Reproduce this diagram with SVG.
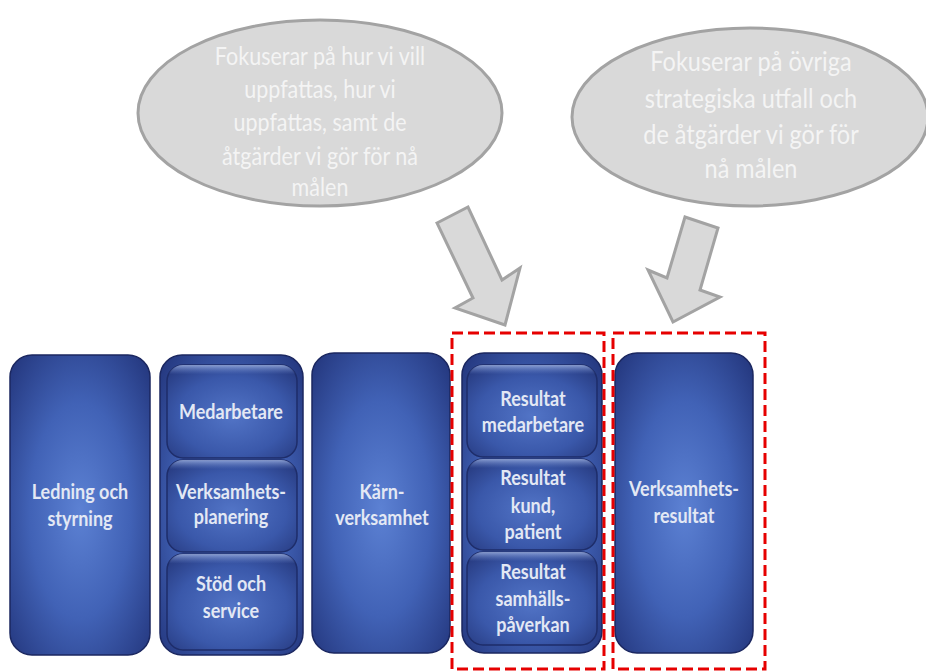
<svg xmlns="http://www.w3.org/2000/svg" width="926" height="671" viewBox="0 0 926 671">
<defs>
<radialGradient id="gCol" cx="0.5" cy="0.52" r="0.72">
<stop offset="0" stop-color="#5c81d3"/>
<stop offset="0.5" stop-color="#4162b6"/>
<stop offset="1" stop-color="#22347a"/>
</radialGradient>
<radialGradient id="gBox" cx="0.5" cy="0.55" r="0.7">
<stop offset="0" stop-color="#5274c6"/>
<stop offset="0.6" stop-color="#3a58aa"/>
<stop offset="1" stop-color="#26397e"/>
</radialGradient>
<linearGradient id="gHi" x1="0" y1="0" x2="0" y2="1">
<stop offset="0" stop-color="#a9bdea" stop-opacity="0.75"/>
<stop offset="0.1" stop-color="#6f8cd2" stop-opacity="0"/>
</linearGradient>
</defs>
<style>
.ell{fill:#d9d9d9;stroke:#a3a3a3;stroke-width:3}
.arr{fill:#d9d9d9;stroke:#a3a3a3;stroke-width:3;stroke-linejoin:miter}
.etx{font-family:Lato,"Open Sans",sans-serif;fill:#f4f4f4;text-anchor:middle}
.col{fill:url(#gCol);stroke:#1b2760;stroke-width:1.5}
.box{fill:url(#gBox);stroke:#1e2d6a;stroke-width:1.5}
.hi{fill:url(#gHi);stroke:none}
.btx{font-family:Lato,"Open Sans",sans-serif;font-weight:bold;font-size:18px;fill:#e3e8f4;text-anchor:middle}
.sel{fill:none;stroke:#e60000;stroke-width:3;stroke-dasharray:11 5}
</style>
<rect width="926" height="671" fill="#ffffff"/>

<g id="bubble1">
<ellipse class="ell" cx="320" cy="113" rx="182" ry="93"/>
<text class="etx" font-size="21.5" transform="scale(1,1.12)"><tspan x="320" y="58">Fokuserar på hur vi vill</tspan><tspan x="320" y="87.5">uppfattas, hur vi</tspan><tspan x="320" y="117">uppfattas, samt de</tspan><tspan x="320" y="147.3">åtgärder vi gör för nå</tspan><tspan x="320" y="175">målen</tspan></text>
</g>
<g id="bubble2">
<ellipse class="ell" cx="750" cy="117" rx="178" ry="89"/>
<text class="etx" font-size="23.5" transform="scale(1,1.12)"><tspan x="751" y="63.4">Fokuserar på övriga</tspan><tspan x="751" y="96.4">strategiska utfall och</tspan><tspan x="751" y="128.6">de åtgärder vi gör för</tspan><tspan x="751" y="158.9">nå målen</tspan></text>
</g>

<g id="connectors">
<polygon class="arr" points="437,223 468,207 502,280 520,268 505,325 455,308 473,298"/>
<polygon class="arr" points="685,217 718,228 700,290 720,297 673,322 648,270 667,278"/>
</g>

<g id="ledning">
<rect class="col" x="10" y="355" width="140" height="300" rx="22"/>
<text class="btx" transform="scale(1,1.15)"><tspan x="80" y="433.9">Ledning och</tspan><tspan x="80" y="457.4">styrning</tspan></text>
</g>

<g id="stod">
<rect class="col" x="160" y="355" width="143" height="300" rx="22"/>
<g id="medarbetare">
<rect class="box" x="167" y="365" width="130" height="93" rx="16"/>
<rect class="hi" x="167" y="365" width="130" height="93" rx="16"/>
<text class="btx" transform="scale(1,1.15)" x="231" y="364.4">Medarbetare</text>
</g>
<g id="verksamhetsplanering">
<rect class="box" x="167" y="460" width="130" height="92" rx="16"/>
<rect class="hi" x="167" y="460" width="130" height="92" rx="16"/>
<text class="btx" transform="scale(1,1.15)"><tspan x="231" y="433.9">Verksamhets-</tspan><tspan x="231" y="455.7">planering</tspan></text>
</g>
<g id="stodochservice">
<rect class="box" x="167" y="554" width="130" height="96" rx="16"/>
<rect class="hi" x="167" y="554" width="130" height="96" rx="16"/>
<text class="btx" transform="scale(1,1.15)"><tspan x="231" y="513.9">Stöd och</tspan><tspan x="231" y="537.4">service</tspan></text>
</g>
</g>

<g id="karnverksamhet">
<rect class="col" x="312" y="353" width="138" height="300" rx="22"/>
<text class="btx" transform="scale(1,1.15)"><tspan x="382" y="433.9">Kärn-</tspan><tspan x="382" y="456.5">verksamhet</tspan></text>
</g>

<g id="resultat">
<rect class="col" x="462" y="353" width="140" height="300" rx="22"/>
<g id="resmedarbetare">
<rect class="box" x="467" y="365" width="130" height="92" rx="16"/>
<rect class="hi" x="467" y="365" width="130" height="92" rx="16"/>
<text class="btx" transform="scale(1,1.15)"><tspan x="533" y="353">Resultat</tspan><tspan x="533" y="375.7">medarbetare</tspan></text>
</g>
<g id="reskund">
<rect class="box" x="467" y="459" width="130" height="91" rx="16"/>
<rect class="hi" x="467" y="459" width="130" height="91" rx="16"/>
<text class="btx" transform="scale(1,1.15)"><tspan x="533" y="421.7">Resultat</tspan><tspan x="533" y="446.1">kund,</tspan><tspan x="533" y="468.7">patient</tspan></text>
</g>
<g id="ressamhalle">
<rect class="box" x="467" y="552" width="130" height="93" rx="16"/>
<rect class="hi" x="467" y="552" width="130" height="93" rx="16"/>
<text class="btx" transform="scale(1,1.15)"><tspan x="533" y="503.5">Resultat</tspan><tspan x="533" y="527">samhälls-</tspan><tspan x="533" y="549.6">påverkan</tspan></text>
</g>
</g>

<g id="verksamhetsresultat">
<rect class="col" x="615" y="353" width="138" height="300" rx="22"/>
<text class="btx" transform="scale(1,1.15)"><tspan x="684" y="431.3">Verksamhets-</tspan><tspan x="684" y="454.8">resultat</tspan></text>
</g>

<g id="highlight1"><rect class="sel" x="452" y="333" width="152" height="336"/></g>
<g id="highlight2"><rect class="sel" x="613" y="333" width="152" height="336"/></g>
</svg>
